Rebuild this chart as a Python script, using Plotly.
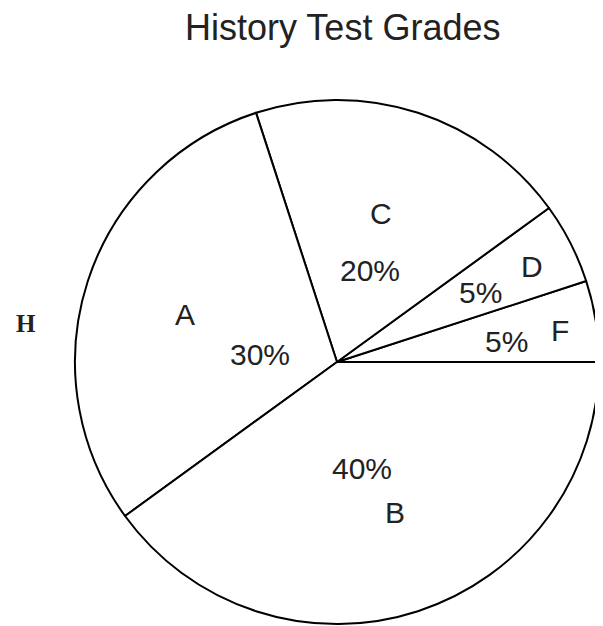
import plotly.graph_objects as go

# slices, counter-clockwise from 3 o'clock
grades = ["F", "D", "C", "A", "B"]
shares = [5, 5, 20, 30, 40]

# label spots in pixels (letter, percent)
letter_px = [(560, 330), (532, 266), (381, 213), (185, 314), (395, 512)]
pct_px = [(506, 341), (480, 292), (370, 270), (260, 354), (362, 468)]

# the page body adds an 8px margin, so the figure is a bit smaller than the window
OFF = 8
W, H = 603 - OFF, 626 - OFF


def paper(px, py):
    return (px - OFF) / W, 1 - (py - OFF) / H


left, top = paper(75, 100)
right, bottom = paper(599, 624)

fig = go.Figure(go.Pie(
    labels=grades,
    values=shares,
    sort=False,
    direction="counterclockwise",
    rotation=72,
    textinfo="none",
    hoverinfo="label+percent",
    marker=dict(colors=["white"] * len(grades), line=dict(color="black", width=2)),
    domain=dict(x=[left, right], y=[bottom, top]),
    showlegend=False,
))

lab_font = dict(family="Liberation Sans", size=30, color="#222")
annotations = []
for g, s, (lx, ly), (px, py) in zip(grades, shares, letter_px, pct_px):
    x, y = paper(lx, ly)
    annotations.append(dict(x=x, y=y, text=g, showarrow=False, xref="paper", yref="paper",
                            xanchor="center", yanchor="middle", font=lab_font))
    x, y = paper(px, py)
    annotations.append(dict(x=x, y=y, text=f"{s}%", showarrow=False, xref="paper", yref="paper",
                            xanchor="center", yanchor="middle", font=lab_font))

# stray axis letter on the left
x, y = paper(26, 323)
annotations.append(dict(x=x, y=y, text="<b>H</b>", showarrow=False, xref="paper", yref="paper",
                        xanchor="center", yanchor="middle",
                        font=dict(family="Liberation Serif", size=25, color="#222")))

x, y = paper(342, 27)
annotations.append(dict(x=x, y=y, text="History Test Grades", showarrow=False,
                        xref="paper", yref="paper", xanchor="center", yanchor="middle",
                        font=dict(family="Liberation Sans", size=36, color="#222")))

fig.update_layout(
    width=W, height=H,
    margin=dict(l=0, r=0, t=0, b=0),
    paper_bgcolor="white",
    annotations=annotations,
)

fig.write_html("out.html")
